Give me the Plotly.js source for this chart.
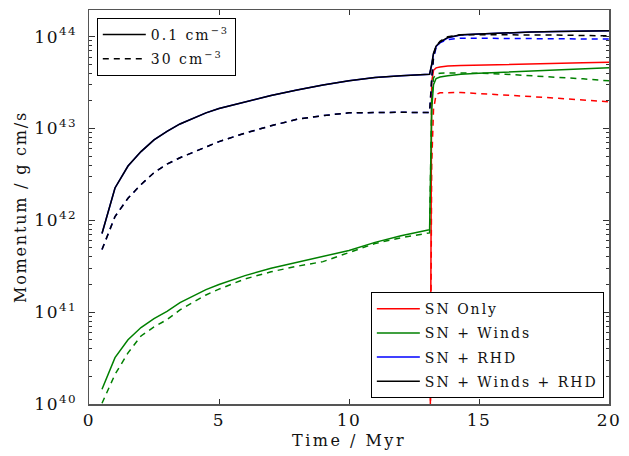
<!DOCTYPE html>
<html>
<head>
<meta charset="utf-8">
<script src="https://cdn.plot.ly/plotly-3.0.1.min.js"></script>
<style>
html, body { margin: 0; padding: 0; background: #fff; }
#chart { width: 629px; height: 456px; }
</style>
</head>
<body>
<div id="chart"></div>
<script>
// Time (Myr)
const time = [0.5, 1, 1.5, 2, 2.5, 3, 3.5, 4, 4.5, 5, 6, 7, 8, 9, 10, 11, 12, 13, 13.1,
              13.18, 13.25, 13.35, 13.5, 13.8, 14.3, 15, 16, 17, 18, 19, 20];

// Momentum (g cm/s), n = 0.1 cm^-3 (solid)
const snOnly_01 = [null, null, null, null, null, null, null, null, null, null, null, null, null, null, null, null, null, null, 1e38,
                   3.2e43, 4.3e43, 4.57e43, 4.68e43, 4.8e43, 4.84e43, 4.9e43, 5.0e43, 5.07e43, 5.13e43, 5.19e43, 5.25e43];
const snWinds_01 = [1.45e40, 3.2e40, 5.0e40, 6.8e40, 8.5e40, 1.02e41, 1.27e41, 1.51e41, 1.76e41, 2.0e41, 2.5e41, 3.0e41, 3.47e41, 4.0e41, 4.7e41, 5.75e41, 6.8e41, 7.8e41, 7.9e41,
                    1.6e43, 3.0e43, 3.5e43, 3.63e43, 3.76e43, 3.9e43, 4.0e43, 4.12e43, 4.22e43, 4.37e43, 4.47e43, 4.57e43];
const snRHD_01 = [7.2e41, 2.25e42, 3.9e42, 5.6e42, 7.5e42, 9.3e42, 1.12e43, 1.3e43, 1.48e43, 1.65e43, 1.96e43, 2.29e43, 2.63e43, 2.98e43, 3.3e43, 3.58e43, 3.75e43, 3.88e43, 3.9e43,
                  4.9e43, 6.5e43, 7.8e43, 8.6e43, 9.7e43, 1.04e44, 1.07e44, 1.10e44, 1.12e44, 1.135e44, 1.15e44, 1.16e44];
const snWindsRHD_01 = [7.2e41, 2.25e42, 3.9e42, 5.6e42, 7.5e42, 9.3e42, 1.12e43, 1.3e43, 1.48e43, 1.65e43, 1.96e43, 2.29e43, 2.63e43, 2.98e43, 3.3e43, 3.58e43, 3.75e43, 3.88e43, 3.9e43,
                       5.0e43, 6.6e43, 7.9e43, 8.7e43, 9.8e43, 1.05e44, 1.07e44, 1.10e44, 1.12e44, 1.135e44, 1.15e44, 1.16e44];

// Momentum (g cm/s), n = 30 cm^-3 (dashed)
const snOnly_30 = [null, null, null, null, null, null, null, null, null, null, null, null, null, null, null, null, null, null, 1e38,
                   4e42, 1.6e43, 2.35e43, 2.45e43, 2.46e43, 2.46e43, 2.4e43, 2.32e43, 2.24e43, 2.14e43, 2.04e43, 1.95e43];
const snWinds_30 = [1.02e40, 2.1e40, 3.6e40, 5.5e40, 6.9e40, 8.3e40, 1.06e41, 1.29e41, 1.54e41, 1.78e41, 2.3e41, 2.75e41, 3.16e41, 3.55e41, 4.47e41, 5.6e41, 6.45e41, 7.25e41, 7.3e41,
                    2.0e43, 3.55e43, 3.9e43, 4.0e43, 4.02e43, 4.02e43, 4.0e43, 3.9e43, 3.76e43, 3.63e43, 3.47e43, 3.3e43];
const snRHD_30 = [4.8e41, 1.1e42, 1.74e42, 2.45e42, 3.3e42, 4.1e42, 4.8e42, 5.5e42, 6.3e42, 7.2e42, 8.9e42, 1.07e43, 1.26e43, 1.38e43, 1.48e43, 1.5e43, 1.5e43, 1.49e43, 1.49e43,
                  3.3e43, 5.8e43, 7.6e43, 8.6e43, 9.3e43, 9.6e43, 9.6e43, 9.55e43, 9.5e43, 9.5e43, 9.45e43, 9.4e43];
const snWindsRHD_30 = [4.8e41, 1.1e42, 1.74e42, 2.45e42, 3.3e42, 4.1e42, 4.8e42, 5.5e42, 6.3e42, 7.2e42, 8.9e42, 1.07e43, 1.26e43, 1.38e43, 1.48e43, 1.5e43, 1.5e43, 1.49e43, 1.49e43,
                       3.5e43, 6.0e43, 7.9e43, 8.9e43, 1.0e44, 1.05e44, 1.05e44, 1.05e44, 1.05e44, 1.04e44, 1.03e44, 1.02e44];

const modelNames = ['SN Only', 'SN + Winds', 'SN + RHD', 'SN + Winds + RHD'];
const densityNames = ['0.1 cm<sup>\u22123</sup>', '30 cm<sup>\u22123</sup>'];
const xTicks = [0, 5, 10, 15, 20];
const yTickVals = [1e40, 1e41, 1e42, 1e43, 1e44];
const yTickText = ['10<sup>40</sup>', '10<sup>41</sup>', '10<sup>42</sup>', '10<sup>43</sup>', '10<sup>44</sup>'];
const xTitle = 'Time / Myr';
const yTitle = 'Momentum / g cm/s';

// wide letter tracking, as in the reference typesetting
const spaced = (s, px) => '<span style="letter-spacing:' + px + 'px">' + s + '</span>';

const colors = ['#ff0000', '#008000', '#0000ff', '#000000'];
const solidSeries = [snOnly_01, snWinds_01, snRHD_01, snWindsRHD_01];
const dashedSeries = [snOnly_30, snWinds_30, snRHD_30, snWindsRHD_30];

const traces = [];
for (let i = 0; i < 4; i++) {
  traces.push({
    x: time, y: dashedSeries[i], mode: 'lines', name: modelNames[i],
    line: {color: colors[i], width: 1.5, dash: '6px,5px'},
    showlegend: false, connectgaps: false, hoverinfo: 'skip'
  });
  traces.push({
    x: time, y: solidSeries[i], mode: 'lines', name: spaced(modelNames[i], 2),
    line: {color: colors[i], width: 1.5},
    legend: 'legend2', legendgroup: 'm' + i, connectgaps: false, hoverinfo: 'skip'
  });
}
// density legend (style keys)
traces.push({x: [null], y: [null], mode: 'lines', name: spaced(densityNames[0], 2), legendgroup: 'd0',
             line: {color: '#000', width: 1.5}, legend: 'legend'});
traces.push({x: [null], y: [null], mode: 'lines', name: spaced(densityNames[1], 2), legendgroup: 'd1',
             line: {color: '#000', width: 1.5, dash: '6px,5px'}, legend: 'legend'});

const serif = 'DejaVu Serif, serif';
const layout = {
  width: 629, height: 456,
  margin: {l: 89, r: 20, t: 10, b: 52},
  paper_bgcolor: '#fff', plot_bgcolor: '#fff',
  font: {size: 14, family: serif, color: '#000'},
  showlegend: true,
  xaxis: {
    range: [0, 20], tickvals: xTicks, ticktext: xTicks.map(v => spaced(String(v), 1.5)),
    ticks: 'inside', ticklen: 5, tickcolor: '#333', tickwidth: 1,
    showline: true, linecolor: '#555', linewidth: 1.5, mirror: 'ticks',
    showgrid: false, zeroline: false,
    tickfont: {size: 17, family: serif, color: '#111'},
    title: {text: spaced(xTitle, 2.5), font: {size: 16, family: serif, color: '#111'}, standoff: 6}
  },
  yaxis: {
    type: 'log', range: [40, 44.29],
    tickvals: yTickVals, ticktext: yTickText.map(s => spaced(s, 1.5)),
    ticks: 'inside', ticklen: 6, tickcolor: '#333', tickwidth: 1,
    ticklabelstandoff: 7,
    minor: {ticks: 'inside', ticklen: 3, tickcolor: '#333', dtick: 'D1', showgrid: false},
    showline: true, linecolor: '#555', linewidth: 1.5, mirror: 'ticks',
    showgrid: false, zeroline: false,
    tickfont: {size: 17, family: serif, color: '#111'},
    title: {text: spaced(yTitle, 1.8), font: {size: 16, family: serif, color: '#111'}, standoff: 3}
  },
  legend: {
    x: 0.015, y: 0.98, xanchor: 'left', yanchor: 'top',
    bgcolor: '#fff', bordercolor: '#000', borderwidth: 1,
    font: {size: 14, family: serif, color: '#111'},
    tracegroupgap: 3, itemwidth: 43
  },
  legend2: {
    x: 0.542, y: 0.284, xanchor: 'left', yanchor: 'top',
    bgcolor: '#fff', bordercolor: '#000', borderwidth: 1,
    font: {size: 14, family: serif, color: '#111'},
    tracegroupgap: 3, itemwidth: 43
  }
};
Plotly.newPlot('chart', traces, layout, {displayModeBar: false, staticPlot: true});
</script>
</body>
</html>
